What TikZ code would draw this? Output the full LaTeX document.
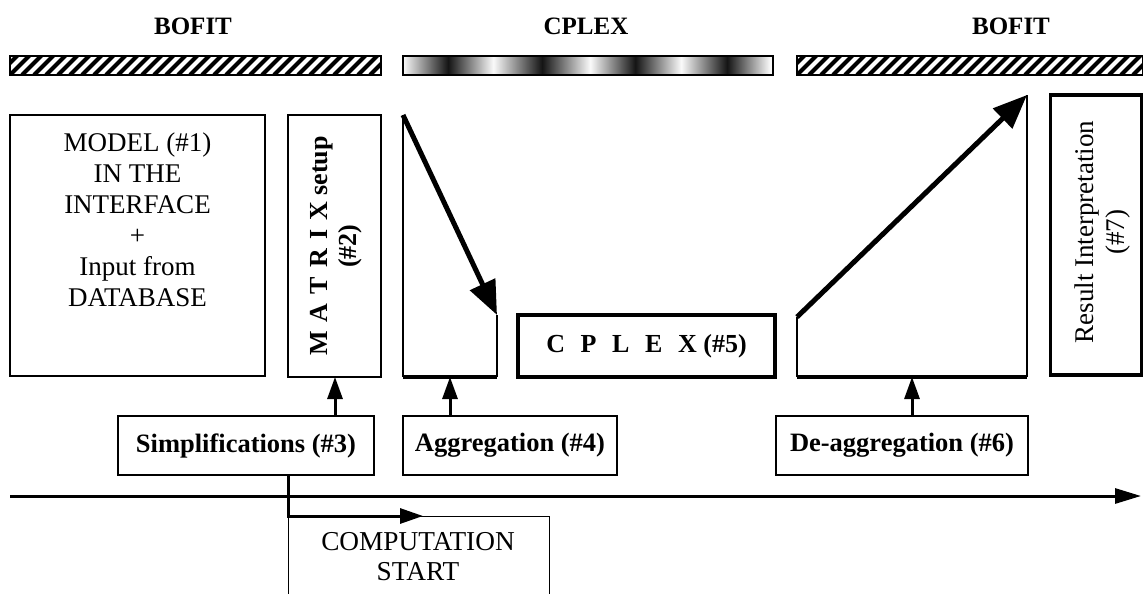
\documentclass[tikz,border=0pt]{standalone}
\usepackage{fontspec}
\setmainfont{Liberation Serif}
\usetikzlibrary{arrows.meta}
\pgfdeclarehorizontalshading{cplexbar}{100bp}{color(0bp)=(gray!4); color(25bp)=(gray!4); color(31.1bp)=(black!92); color(37.2bp)=(gray!4); color(43.8bp)=(black!92); color(50.3bp)=(gray!4); color(56.4bp)=(black!92); color(62.6bp)=(gray!4); color(68.8bp)=(black!92); color(74.6bp)=(gray!4); color(100bp)=(gray!4)}
\begin{document}
\begin{tikzpicture}[x=1pt,y=-1pt,
  txt/.style={font=\fontsize{27}{31}\selectfont, align=center, inner sep=0},
  btxt/.style={font=\fontsize{26}{29}\selectfont\bfseries, align=center, inner sep=0},
  title/.style={font=\fontsize{25}{30}\selectfont\bfseries, inner sep=0},
  box/.style={draw, line width=1.5pt, inner sep=0},
  bbox/.style={draw, line width=2.2pt, inner sep=0, font=\fontsize{26.5}{31}\selectfont\bfseries},
  thickbox/.style={draw, line width=3.2pt, inner sep=0},
  hatchbar/.style={draw, line width=2pt, inner sep=0, minimum height=19pt,
    path picture={\foreach \k in {-2,...,32}{\draw[line width=4.2pt]
      ([xshift=\k*12pt]path picture bounding box.south west) -- ++(24,-24);}}},
  upar/.style={line width=3pt, -{Triangle[length=22pt,width=15pt]}},
  bigar/.style={line width=5pt, -{Triangle[length=34pt,width=27pt]}},
  thin/.style={line width=1.5pt},
  base/.style={line width=4pt}
]
\useasboundingbox (0,0) rectangle (1143,594);
\clip (0,0) rectangle (1143,594);

% titles
\node[title] (t1) at (193,26) {BOFIT};
\node[title] (t2) at (586,26) {CPLEX};
\node[title] (t3) at (1011,26) {BOFIT};

% bars
\node[hatchbar, minimum width=371pt] (bar1) at (195.5,65.5) {};
\node[draw, line width=2pt, inner sep=0, minimum width=370pt, minimum height=19pt, shade, shading=cplexbar] (bar2) at (588,65.5) {};
\node[hatchbar, minimum width=346pt] (bar3) at (970,65.5) {};

% model
\node[box, minimum width=255pt, minimum height=261pt] (model) at (137.5,245.5) {};
\node[txt] (modeltxt) at (137.5,219.5) {MODEL (\#1)\\IN THE\\INTERFACE\\+\\Input from\\DATABASE};

% matrix
\node[box, minimum width=93pt, minimum height=262pt] (matrix) at (334.5,246) {};
\node[btxt, rotate=90] (matrixtxt) at (336,246) {M\hspace{0.35em}A\hspace{0.35em}T\hspace{0.35em}R\hspace{0.35em}I\hspace{0.35em}X setup\\(\#2)};

% aggregation shape
\coordinate (aggTL) at (403,115);
\coordinate (aggBL) at (403,377);
\coordinate (aggBR) at (497,377);
\coordinate (aggR) at (497,315);
\coordinate (aggB) at (450,377);
\draw[thin] (aggTL) -- (aggBL);
\draw[thin] (aggBR) -- (aggR);
\draw[base] (aggBL) -- (aggBR);
\draw[bigar] (aggTL) -- (aggR);

% cplex
\node[thickbox, minimum width=257pt, minimum height=62pt, font=\fontsize{26}{31}\selectfont\bfseries] (cplex) at (646.5,346)
  {C\hspace{0.6em}P\hspace{0.6em}L\hspace{0.6em}E\hspace{0.6em}X (\#5)};

% de-aggregation shape
\coordinate (dagL) at (797,317);
\coordinate (dagBL) at (797,377);
\coordinate (dagBR) at (1027,377);
\coordinate (dagTR) at (1027,95);
\coordinate (dagB) at (912,377);
\draw[thin] (dagBL) -- (dagL);
\draw[thin] (dagBR) -- (dagTR);
\draw[base] (dagBL) -- (dagBR);
\draw[bigar] (dagL) -- (dagTR);

% result
\node[thickbox, minimum width=91pt, minimum height=280pt] (result) at (1096,235) {};
\node[txt, rotate=90] (resulttxt) at (1102,232) {Result Interpretation\\(\#7)};

% bottom boxes
\node[bbox, minimum width=256pt, minimum height=59pt] (simp) at (246,445.5) {Simplifications (\#3)};
\node[bbox, minimum width=214pt, minimum height=59pt] (agg) at (510,445.5) {Aggregation (\#4)};
\node[bbox, minimum width=252pt, minimum height=59pt] (dagg) at (902,445.5) {De-aggregation (\#6)};

\coordinate (mB) at (335,377);
\draw[upar] (mB |- simp.north) -- (mB);
\draw[upar] (aggB |- agg.north) -- (aggB);
\draw[upar] (dagB |- dagg.north) -- (dagB);

% timeline
\coordinate (tl0) at (10,496);
\coordinate (tl1) at (1141,496);
\draw[line width=3pt, -{Triangle[length=26pt,width=15pt]}] (tl0) -- (tl1);

% computation start
\node[draw, line width=1.2pt, inner sep=0, minimum width=261pt, minimum height=100pt, anchor=north west] (comp) at (288,516) {};
\node[txt, font=\fontsize{27.3}{30}\selectfont] (comptxt) at (418,557) {COMPUTATION\\START};
\coordinate (cArrow) at (423,516);
\draw[line width=3pt, -{Triangle[length=23pt,width=15pt]}] (simp.south -| comp.north west) |- (cArrow);
\end{tikzpicture}
\end{document}
